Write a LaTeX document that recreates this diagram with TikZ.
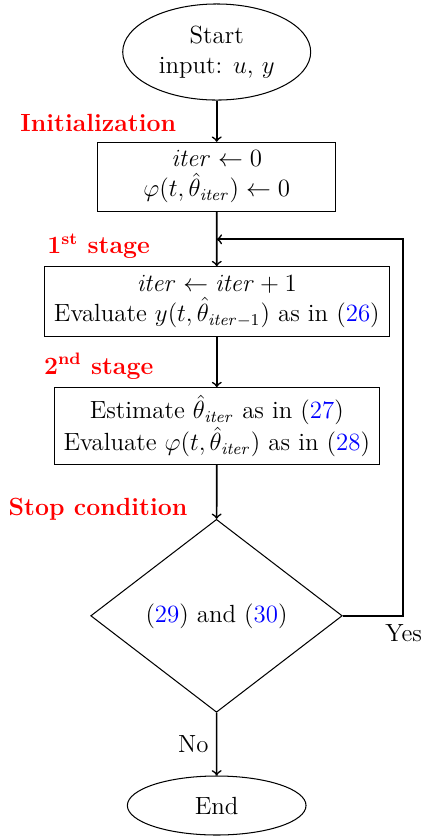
\documentclass[12pt,tikz,border=0pt]{standalone}
\usetikzlibrary{shapes.geometric}
\tikzset{
  term/.style={ellipse,draw,line width=0.5pt,inner sep=0pt,align=center},
  procbox/.style={rectangle,draw,line width=0.5pt,inner sep=0pt,align=center},
  decide/.style={diamond,draw,line width=0.5pt,inner sep=0pt,align=center},
  flowarrow/.style={->,thick},
  stagelabel/.style={anchor=base west,inner sep=0pt,text=red,font=\bfseries},
  branchlabel/.style={anchor=base west,inner sep=0pt}
}
\newcommand{\eqref}[1]{(\textcolor{blue}{#1})}
\begin{document}
\begin{tikzpicture}[x=0.483pt,y=-0.483pt]
  \useasboundingbox (0,0) rectangle (422,840);

  % nodes of the flow
  \node[term,minimum width=90.8pt,minimum height=46.4pt] (start) at (216.7,52)
    {Start\\input: $u$, $y$};
  \node[procbox,minimum width=114.8pt,minimum height=33.3pt] (init) at (216.7,176.8)
    {$\mathit{iter} \leftarrow 0$\\$\varphi(t,\hat{\theta}_{\mathit{iter}}) \leftarrow 0$};
  \node[procbox,minimum width=166.6pt,minimum height=33.6pt] (stage1) at (216.8,301.5)
    {$\mathit{iter} \leftarrow \mathit{iter}+1$\\Evaluate $y(t,\hat{\theta}_{\mathit{iter}-1})$ as in \eqref{26}};
  \node[procbox,minimum width=157pt,minimum height=37pt] (stage2) at (216.8,426)
    {Estimate $\hat{\theta}_{\mathit{iter}}$ as in \eqref{27}\\Evaluate $\varphi(t,\hat{\theta}_{\mathit{iter}})$ as in \eqref{28}};
  \node[decide,minimum width=121.5pt,minimum height=93.2pt] (stop) at (216.5,615.8)
    {\eqref{29} and \eqref{30}};
  \node[term,minimum width=86.3pt,minimum height=28.5pt] (end) at (216.7,805.5) {End};

  % stage titles
  \node[stagelabel] (lInit) at (20,131.7) {Initialization};
  \node[stagelabel] (lS1) at (47,253.3) {1\textsuperscript{st} stage};
  \node[stagelabel] (lS2) at (43.7,374) {2\textsuperscript{nd} stage};
  \node[stagelabel] (lStop) at (8.3,515) {Stop condition};

  % connectors
  \coordinate (loopin) at (216.7,239.3);
  \coordinate (loopright) at (403.3,615.8);
  \coordinate (looptop) at (403.3,239.3);
  \draw[flowarrow] (start) -- (init);
  \draw[flowarrow] (init) -- (stage1);
  \draw[flowarrow] (stage1) -- (stage2);
  \draw[flowarrow] (stage2) -- (stop);
  \draw[flowarrow] (stop) -- (end);
  \draw[flowarrow] (stop.east) -- (loopright) -- (looptop) -- (loopin);

  % branch labels
  \node[branchlabel] (yes) at (385,641.7) {Yes};
  \node[branchlabel] (no) at (177.7,752.7) {No};
\end{tikzpicture}
\end{document}
